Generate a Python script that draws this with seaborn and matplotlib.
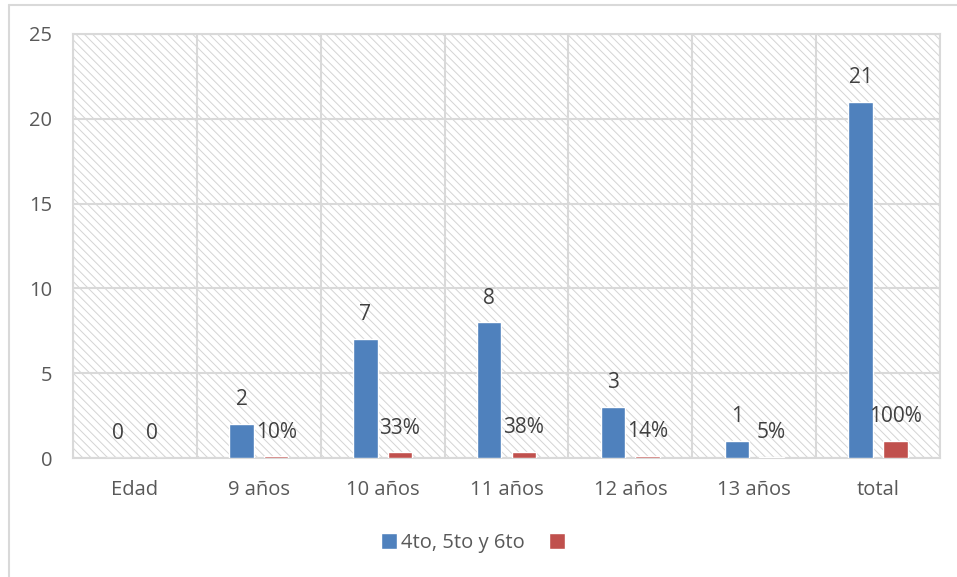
import pandas as pd
import numpy as np
import matplotlib
matplotlib.use('Agg')
import matplotlib.pyplot as plt
import seaborn as sns
from matplotlib.patches import Patch, Rectangle
from matplotlib.lines import Line2D

categorias = ['Edad', '9 años', '10 años', '11 años', '12 años', '13 años', 'total']
alumnos = [0, 2, 7, 8, 3, 1, 21]
porcentaje = [0, 0.10, 0.33, 0.38, 0.14, 0.05, 1.00]
etiquetas_alumnos = ['0', '2', '7', '8', '3', '1', '21']
etiquetas_pct = ['0', '10%', '33%', '38%', '14%', '5%', '100%']
serie_azul = '4to, 5to y 6to'
serie_roja = 'pct'

df = pd.DataFrame({
    'categoria': categorias * 2,
    'serie': [serie_azul] * len(categorias) + [serie_roja] * len(categorias),
    'valor': alumnos + porcentaje,
})

sns.set_theme(style='white')
plt.rcParams['font.family'] = ['Open Sans', 'DejaVu Sans']
plt.rcParams['hatch.linewidth'] = 0.7

azul = '#4F81BD'
rojo = '#C0504D'
gris = '#d9d9d9'
fs = 14.5

fig = plt.figure(figsize=(9.57, 5.77), dpi=100)
ax = fig.add_axes([0.0763, 0.2062, 0.9059, 0.7349])

# fondo rayado del area de trazado
ax.add_patch(Rectangle((0, 0), 1, 1, transform=ax.transAxes, fill=False,
                       hatch='\\\\\\\\', edgecolor='#d4d4d4', lw=0, zorder=0))

sns.barplot(data=df, x='categoria', y='valor', hue='serie', order=categorias,
            hue_order=[serie_azul, serie_roja], palette=[azul, rojo],
            width=0.56, gap=0.29, saturation=1, legend=False, ax=ax, zorder=3)

for cont, etiquetas in zip(ax.containers, [etiquetas_alumnos, etiquetas_pct]):
    for barra, txt in zip(cont, etiquetas):
        xc = barra.get_x() + barra.get_width() / 2
        ax.annotate(txt, (xc, barra.get_height()), xytext=(0, 17.5),
                    textcoords='offset points', ha='center', va='center',
                    fontsize=15, color='#404040', zorder=5)

ax.set_xlim(-0.5, 6.5)
ax.set_ylim(0, 25)
ax.set_yticks(np.arange(0, 26, 5))
ax.set_xticks(np.arange(-0.5, 7, 1), minor=True)
ax.grid(axis='y', which='major', color=gris, lw=1.5, zorder=1)
ax.grid(axis='x', which='minor', color=gris, lw=1.5, zorder=1)
ax.grid(axis='x', which='major', visible=False)
ax.set_axisbelow(True)
ax.tick_params(axis='both', which='both', length=0)
ax.tick_params(axis='y', pad=15, labelsize=fs, labelcolor='#595959')
ax.tick_params(axis='x', pad=16, labelsize=fs, labelcolor='#595959')
ax.set_xlabel('')
ax.set_ylabel('')
for lado in ax.spines.values():
    lado.set_color(gris)
    lado.set_linewidth(1.5)

handles = [Patch(facecolor=azul), Patch(facecolor=rojo)]
ax.legend(handles=handles, labels=[serie_azul, ''], loc='center',
          bbox_to_anchor=(475 / 957, 1 - 543 / 577), bbox_transform=fig.transFigure,
          ncol=2, frameon=False, fontsize=fs, labelcolor='#595959',
          handlelength=0.8, handleheight=0.8, handletextpad=0.2, columnspacing=1.2)

# borde del grafico (solo arriba e izquierda visibles)
fig.add_artist(Line2D([9 / 957, 1], [1 - 5 / 577, 1 - 5 / 577], transform=fig.transFigure, color=gris, lw=1.5))
fig.add_artist(Line2D([9 / 957, 9 / 957], [0, 1 - 5 / 577], transform=fig.transFigure, color=gris, lw=1.5))

fig.savefig('out.png', dpi=100)
